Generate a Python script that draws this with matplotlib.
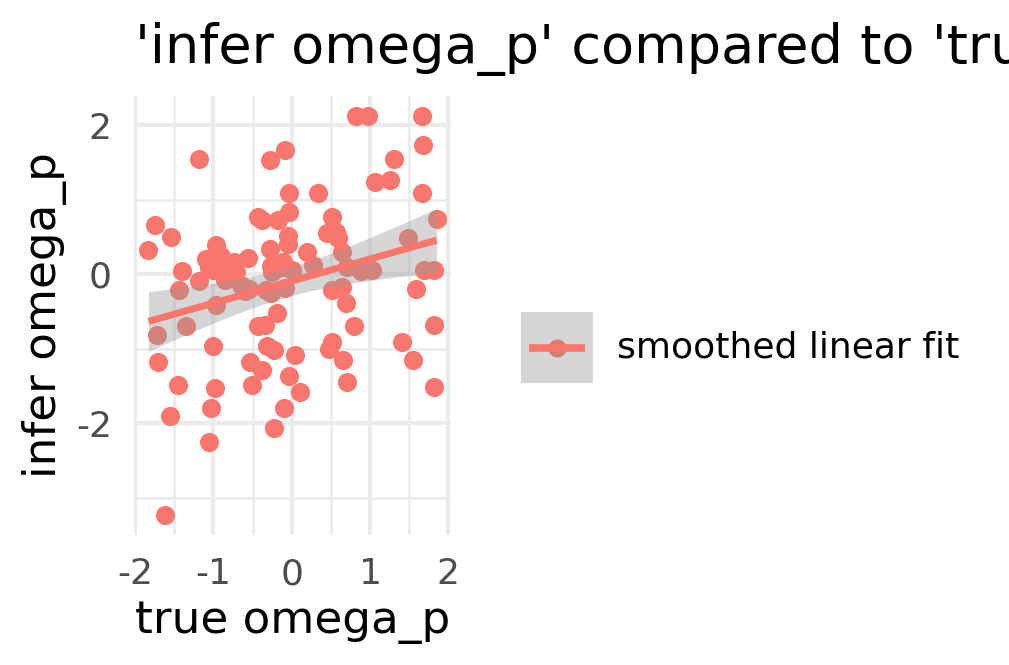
import numpy as np
import matplotlib
matplotlib.use("Agg")
import matplotlib.pyplot as plt
from matplotlib.lines import Line2D
from matplotlib.patches import Rectangle

true_omega = [-1.83, -1.74, -1.72, -1.71, -1.54, -1.55, -1.62, -1.45, -1.44, -1.40,
              -1.35, -1.18, -1.18, -1.10, -1.06, -1.03, -1.06, -1.01, -0.98, -0.97,
              -0.97, -0.94, -0.90, -0.85, -0.79, -0.74, -0.71, -0.65, -0.56, -0.53,
              -0.51, -0.43, -0.38, -0.43, -0.38, -0.34, -0.33, -0.31, -0.28, -0.28,
              -0.27, -0.25, -0.23, -0.22, -0.19, -0.18, -0.11, -0.10, -0.09, -0.08,
              -0.05, -0.05, -0.04, -0.04, -0.03, 0.04, 0.00, 0.10, 0.19, 0.27,
              0.33, 0.45, 0.48, 0.52, 0.52, 0.52, 0.57, 0.59, 0.64, 0.64,
              0.66, 0.69, 0.70, 0.71, 0.79, 0.82, 0.89, 0.98, 1.06, 1.03,
              1.25, 1.31, 1.41, 1.48, 1.55, 1.59, 1.66, 1.67, 1.68, 1.69,
              1.82, 1.82, 1.82, 1.85, -0.55, -0.90, -0.27, -0.12, -0.60, -1.00]
infer_omega = [0.32, 0.66, -0.82, -1.18, 0.50, -1.91, -3.23, -1.49, -0.21, 0.04,
               -0.70, 1.54, -0.09, 0.20, 0.08, -1.80, -2.25, -0.97, -1.53, -0.42,
               0.39, 0.17, 0.25, -0.08, 0.12, 0.16, 0.03, -0.15, 0.21, -1.18,
               -1.49, 0.77, 0.72, -0.70, -1.29, -0.68, -0.21, -0.97, 1.53, 0.34,
               0.11, 0.03, -1.02, -2.07, -0.52, 0.72, 0.16, -1.80, -0.19, 1.66,
               0.40, 0.51, 1.09, 0.83, -1.37, -1.09, 0.05, -1.58, 0.30, 0.12,
               1.09, 0.55, -1.01, 0.77, -0.91, -0.21, 0.56, 0.48, 0.30, -0.17,
               -1.15, -0.39, -1.45, 0.09, -0.70, 2.12, 0.04, 2.12, 1.23, 0.05,
               1.26, 1.54, -0.91, 0.48, -1.15, -0.20, 2.12, 1.09, 1.73, 0.05,
               0.05, -0.68, -1.52, 0.74, -0.20, 0.20, -0.25, 0.10, -0.22, 0.05]
x_ticks = [-2, -1, 0, 1, 2]
y_ticks = [-2, 0, 2]

x = np.array(true_omega)
y = np.array(infer_omega)

red = "#F8766D"
W, H = 1009, 665
fig = plt.figure(figsize=(W/100, H/100), dpi=100)
ax = fig.add_axes([134/W, 1-535/H, (451-134)/W, (535-96)/H])

# linear fit + 95% CI
n = len(x)
b1, b0 = np.polyfit(x, y, 1)
xs = np.linspace(x.min(), x.max(), 80)
ys = b0 + b1*xs
resid = y - (b0 + b1*x)
s = np.sqrt(np.sum(resid**2)/(n-2))
se = s*np.sqrt(1/n + (xs-x.mean())**2/np.sum((x-x.mean())**2))
t = 1.985
ax.fill_between(xs, ys - t*se, ys + t*se, color="#999999", alpha=0.4, lw=0, zorder=3)
ax.scatter(x, y, s=190, color=red, lw=0, zorder=2)
ax.plot(xs, ys, color=red, lw=5, zorder=4, solid_capstyle="butt")

ax.set_xlim(-2.014, 2.034)
ax.set_ylim(-3.50, 2.39)
ax.set_xticks(x_ticks)
ax.set_xticklabels([str(v) for v in x_ticks])
ax.set_yticks(y_ticks)
ax.set_yticklabels([str(v) for v in y_ticks])
ax.set_xticks(np.arange(-1.5, 2.0, 1.0), minor=True)
ax.set_yticks([-3, -1, 1], minor=True)
ax.grid(True, which="major", color="#EBEBEB", lw=3.0, zorder=0)
ax.grid(True, which="minor", color="#EBEBEB", lw=1.8, zorder=0)
ax.set_axisbelow(True)
for sp in ax.spines.values():
    sp.set_visible(False)
ax.tick_params(which="both", length=0, labelsize=26, labelcolor="#4D4D4D", pad=16)

fig.text(292.5/W, 1-633/H, "true omega_p", fontsize=32.6, ha="center", va="baseline")
fig.text(67/W, 1-315.5/H, "infer omega_p", fontsize=32.6, ha="right", va="center",
         rotation=90)
fig.text(135/W, 1-63/H, "'infer omega_p' compared to 'true omega_p'", fontsize=39,
         ha="left", va="baseline")

# legend
lx0, ly0, lw_, lh = 521/W, 1-383/H, 72/W, 71/H
fig.patches.append(Rectangle((lx0, ly0), lw_, lh, transform=fig.transFigure,
                             color="#D6D6D6", lw=0))
cy = ly0 + lh/2
fig.lines.append(Line2D([557/W], [cy], transform=fig.transFigure, marker="o",
                        markersize=13, color="#D27D76", markeredgewidth=0))
fig.lines.append(Line2D([529/W, 585/W], [cy, cy], transform=fig.transFigure,
                        color=red, lw=5.5, solid_capstyle="butt"))
fig.text(617/W, cy, "smoothed linear fit", fontsize=26, ha="left", va="center")

fig.savefig("out.png", dpi=100)
